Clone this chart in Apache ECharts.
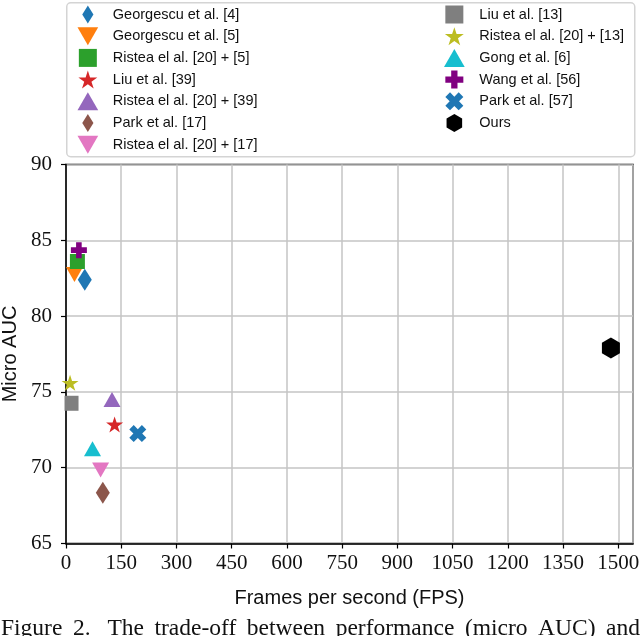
<!DOCTYPE html>
<html>
<head>
<meta charset="utf-8">
<script src="https://cdn.jsdelivr.net/npm/echarts@6/dist/echarts.min.js"></script>
<style>
html,body{margin:0;padding:0;background:#fff;}
#chart{width:640px;height:636px;}
</style>
</head>
<body>
<div id="chart"></div>
<script>
// ---- data ----
const methods = [
  'Georgescu et al. [4]',
  'Georgescu et al. [5]',
  'Ristea el al. [20] + [5]',
  'Liu et al. [39]',
  'Ristea el al. [20] + [39]',
  'Park et al. [17]',
  'Ristea el al. [20] + [17]',
  'Liu et al. [13]',
  'Ristea el al. [20] + [13]',
  'Gong et al. [6]',
  'Wang et al. [56]',
  'Park et al. [57]',
  'Ours'
];
const fps = [51, 23, 31, 132, 125, 100, 94, 15, 11, 72, 35, 195, 1480];
const microAUC = [82.4, 82.75, 83.6, 72.85, 74.5, 68.35, 69.85, 74.25, 75.6, 71.25, 84.35, 72.25, 77.9];
const xTicks = [0, 150, 300, 450, 600, 750, 900, 1050, 1200, 1350, 1500];
const yTicks = [65, 70, 75, 80, 85, 90];
const captionWords = ['Figure', '2.', 'The', 'trade-off', 'between', 'performance', '(micro', 'AUC)', 'and'];

// ---- styles ----
const DIAMOND = 'path://M0,-1 L0.62,0 L0,1 L-0.62,0 Z';
const TRI_UP = 'path://M0,-0.87 L1,0.87 L-1,0.87 Z';
const TRI_DOWN = 'path://M-1,-0.87 L1,-0.87 L0,0.87 Z';
const SQUARE = 'path://M0,0 L1,0 L1,1 L0,1 Z';
const STAR = 'path://M0,-1 L0.2245,-0.309 L0.951,-0.309 L0.363,0.118 L0.588,0.809 L0,0.382 L-0.588,0.809 L-0.363,0.118 L-0.951,-0.309 L-0.2245,-0.309 Z';
const PLUS = 'path://M-0.35,-1 L0.35,-1 L0.35,-0.35 L1,-0.35 L1,0.35 L0.35,0.35 L0.35,1 L-0.35,1 L-0.35,0.35 L-1,0.35 L-1,-0.35 L-0.35,-0.35 Z';
const XMARK = 'path://M0.46,-0.955 L0.955,-0.46 L0.495,0 L0.955,0.46 L0.46,0.955 L0,0.495 L-0.46,0.955 L-0.955,0.46 L-0.495,0 L-0.955,-0.46 L-0.46,-0.955 L0,-0.495 Z';
const HEX = 'path://M0,-1 L0.866,-0.5 L0.866,0.5 L0,1 L-0.866,0.5 L-0.866,-0.5 Z';
const styles = [
  {c:'#1f77b4', s:DIAMOND, z:[14,22]},
  {c:'#ff7f0e', s:TRI_DOWN, z:[17,15]},
  {c:'#2ca02c', s:SQUARE, z:[15,15]},
  {c:'#d62728', s:STAR, z:[17,16]},
  {c:'#9467bd', s:TRI_UP, z:[17,15]},
  {c:'#8c564b', s:DIAMOND, z:[14,22]},
  {c:'#e377c2', s:TRI_DOWN, z:[17,15]},
  {c:'#7f7f7f', s:SQUARE, z:[14,15]},
  {c:'#bcbd22', s:STAR, z:[17,16]},
  {c:'#17becf', s:TRI_UP, z:[17,15]},
  {c:'#800080', s:PLUS, z:[16,16]},
  {c:'#1f77b4', s:XMARK, z:[17,17]},
  {c:'#000000', s:HEX, z:[18,21]}
];

const series = methods.map((name, i) => ({
  name: name,
  type: 'scatter',
  data: [[fps[i], microAUC[i]]],
  symbol: styles[i].s,
  symbolSize: styles[i].z,
  symbolKeepAspect: false,
  itemStyle: {color: styles[i].c, opacity: 1},
  emphasis: {disabled: true},
  z: 2 + i * 0.01
}));

const legendCommon = {
  orient: 'vertical',
  top: 5.5,
  padding: 0,
  itemWidth: 40,
  itemHeight: 18,
  itemGap: 3.7,
  symbolKeepAspect: true,
  selectedMode: false,
  textStyle: {fontFamily: 'Liberation Sans', fontSize: 14.5, color: '#111'}
};

// justified caption line (first line of the figure caption below the chart)
const CAP_FONT = 23.5, CAP_LEFT = 1, CAP_RIGHT = 640;
const ctx = document.createElement('canvas').getContext('2d');
ctx.font = CAP_FONT + 'px "Liberation Serif"';
const widths = captionWords.map(w => ctx.measureText(w).width);
const gap = (CAP_RIGHT - CAP_LEFT - widths.reduce((a, b) => a + b, 0)) / (captionWords.length - 1 + 0.6);
const captionEls = [];
let cx = CAP_LEFT;
captionWords.forEach((w, i) => {
  captionEls.push({type: 'text', x: cx, y: 617,
    style: {text: w, fontFamily: 'Liberation Serif', fontSize: CAP_FONT, fill: '#111', verticalAlign: 'top'}});
  cx += widths[i] + gap * (i === 1 ? 1.6 : 1);
});

const chart = echarts.init(document.getElementById('chart'), null, {renderer: 'canvas'});
chart.setOption({
  backgroundColor: '#fff',
  animation: false,
  graphic: [
    {type: 'rect', left: 66, top: 2, shape: {width: 568, height: 154, r: 4},
     style: {fill: '#fff', stroke: '#d4d4d4', lineWidth: 1.5}, z: -1}
  ].concat(captionEls),
  legend: [
    Object.assign({}, legendCommon, {left: 77.5, data: methods.slice(0, 7)}),
    Object.assign({}, legendCommon, {left: 444, data: methods.slice(7)})
  ],
  grid: {left: 66, right: 7, top: 164.5, bottom: 92.5, outerBoundsMode: 'none', containLabel: false,
         show: true, borderColor: '#000', borderWidth: 1.5, backgroundColor: 'transparent'},
  xAxis: {
    type: 'value', min: 0, max: 1540, interval: 150,
    name: 'Frames per second (FPS)', nameLocation: 'middle', nameGap: 45,
    nameTextStyle: {fontFamily: 'Liberation Sans', fontSize: 20, color: '#111'},
    axisLine: {show: true, onZero: false, lineStyle: {color: '#000', width: 1.5}},
    axisTick: {show: true, length: 5, lineStyle: {color: '#000', width: 1.2}},
    axisLabel: {
      margin: 9, fontFamily: 'Liberation Serif', fontSize: 21, color: '#111',
      showMaxLabel: false,
      formatter: v => xTicks.includes(v) ? String(v) : ''
    },
    splitLine: {show: true, lineStyle: {color: '#c4c4c4', width: 1.5}}
  },
  yAxis: {
    type: 'value', min: 65, max: 90, interval: 5,
    name: 'Micro AUC', nameLocation: 'middle', nameGap: 37,
    nameTextStyle: {fontFamily: 'Liberation Sans', fontSize: 20, color: '#111'},
    axisLine: {show: true, lineStyle: {color: '#000', width: 1.5}},
    axisTick: {show: true, length: 5, lineStyle: {color: '#000', width: 1.2}},
    axisLabel: {
      margin: 14, fontFamily: 'Liberation Serif', fontSize: 21, color: '#111',
      formatter: v => yTicks.includes(v) ? String(v) : ''
    },
    splitLine: {show: true, lineStyle: {color: '#c4c4c4', width: 1.5}}
  },
  series: series
});
</script>
</body>
</html>
